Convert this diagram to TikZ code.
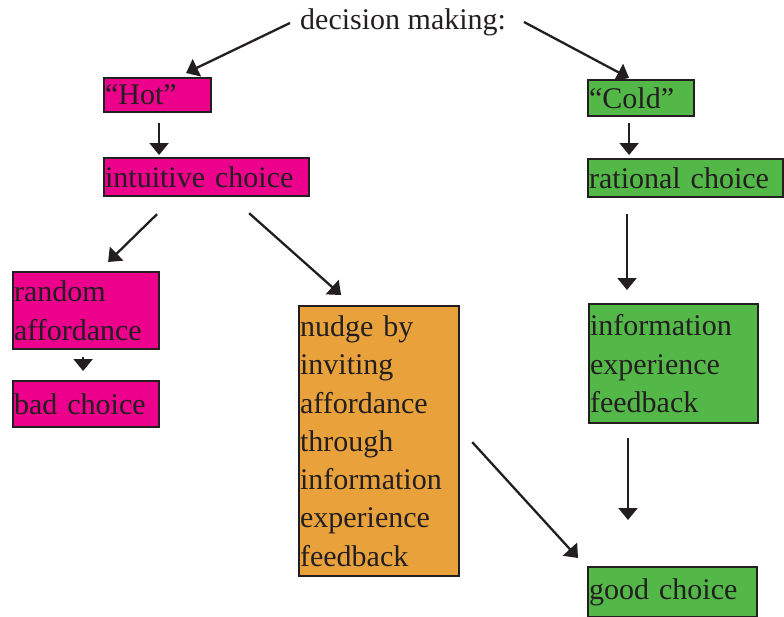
\documentclass[tikz,border=0pt]{standalone}
\usepackage{fontspec}
\setmainfont{Liberation Serif}
\usetikzlibrary{arrows.meta,calc}
\definecolor{ink}{HTML}{231F20}
\definecolor{hotpink}{HTML}{EC008C}
\definecolor{coldgreen}{HTML}{53B848}
\definecolor{nudgeorange}{HTML}{E9A23B}
\tikzset{
  x=1pt, y=-1pt,
  card/.style={draw=ink, line width=2.2pt, anchor=north west, inner xsep=1pt, inner ysep=0pt,
    align=left, text=ink, font=\fontsize{30}{38.3}\selectfont},
  hotcard/.style={card, fill=hotpink},
  coldcard/.style={card, fill=coldgreen},
  nudgecard/.style={card, fill=nudgeorange},
  arr/.style={draw=ink, line width=2.3pt, -{Triangle[length=12pt,width=19pt]}}
}
\begin{document}
\begin{tikzpicture}
\useasboundingbox (0,0) rectangle (784,616);

% heading
\node[text=ink, font=\fontsize{30}{36}\selectfont, anchor=base west, inner sep=0pt] (dm) at (300,29) {decision making:};

% hot branch
\node[hotcard, text width=105pt, minimum height=34pt] (hot) at (103,77) {\raisebox{-3pt}{“Hot”}};
\node[hotcard, text width=203pt, minimum height=38pt] (intuitive) at (103,157) {intuitive choice};
\node[hotcard, text width=144pt, minimum height=77pt] (random) at (12,271) {random\\affordance};
\node[hotcard, text width=144pt, minimum height=46pt] (bad) at (12,380) {bad choice};
\node[nudgecard, text width=158pt, minimum height=270pt] (nudge) at (298,305)
  {nudge by\\inviting\\affordance\\through\\information\\experience\\feedback};

% cold branch
\node[coldcard, text width=104pt, minimum height=36pt] (cold) at (587,79) {\raisebox{-2pt}{“Cold”}};
\node[coldcard, text width=193pt, minimum height=38pt] (rational) at (587,158) {rational choice};
\node[coldcard, text width=167pt, minimum height=119pt] (info) at (588,303) {information\\experience\\feedback};
\node[coldcard, text width=167pt, minimum height=50pt] (good) at (587,566) {\raisebox{-4pt}{good choice}};

% connectors
\draw[arr] ([shift={(-10,-6)}]dm.base west) -- ([shift={(28.5,-4)}]hot.north);
\draw[arr] ([shift={(224,-7)}]dm.base west) -- ([shift={(-12,-1)}]cold.north);
\draw[arr] ([shift={(1.5,10)}]hot.south) -- ([shift={(1.5,-2)}]hot.south |- intuitive.north);
\draw[arr] ([shift={(-12,6)}]cold.south) -- ([shift={(-12,-3)}]cold.south |- rational.north);
\draw[arr] ([shift={(54,17)}]intuitive.south west) -- ([shift={(22,-9)}]random.north);
\draw[arr] ([shift={(42.5,16)}]intuitive.south) -- ([shift={(-38,-10)}]nudge.north);
\draw[arr] ([shift={(-3,7)}]random.south) -- ([shift={(-3,-9)}]bad.north);
\draw[arr] ([shift={(40,16)}]rational.south west) -- ([shift={(39,-13)}]info.north west);
\draw[arr] ([shift={(40,14)}]info.south west) -- ([shift={(41,-46)}]good.north west);
\draw[arr] ([shift={(12,1)}]nudge.east) -- ([shift={(-9,-8)}]good.north west);
\end{tikzpicture}
\end{document}
